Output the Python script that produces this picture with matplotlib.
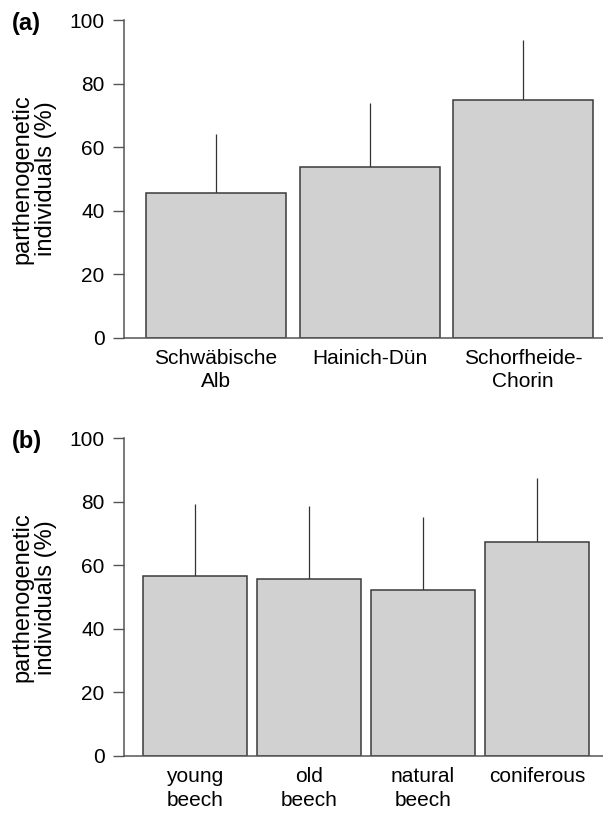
import numpy as np
import matplotlib
matplotlib.use("Agg")
import matplotlib.pyplot as plt

plt.rcParams['font.family'] = ['Liberation Sans', 'DejaVu Sans']

# DATA
regions = ['Schwäbische\nAlb', 'Hainich-Dün', 'Schorfheide-\nChorin']
region_mean = [45.7, 53.8, 74.8]
region_err = [18.6, 20.1, 19.1]

forests = ['young\nbeech', 'old\nbeech', 'natural\nbeech', 'coniferous']
forest_mean = [56.7, 55.8, 52.3, 67.5]
forest_err = [22.7, 22.9, 22.8, 19.9]

yticks = [0, 20, 40, 60, 80, 100]
ylabel = 'parthenogenetic\nindividuals (%)'

BAR_FILL = '#d0d1d0'
BAR_EDGE = '#3a3a3a'
AXIS_COL = '#555555'

fig = plt.figure(figsize=(6.03, 8.14), dpi=100)
ax_a = fig.add_axes([0.2056, 0.5851, 0.7944, 0.3900])
ax_b = fig.add_axes([0.2056, 0.0713, 0.7944, 0.3902])


def draw_panel(ax, cats, means, errs, xlim, tag):
    x = np.arange(len(cats))
    ax.bar(x, means, width=0.912, color=BAR_FILL, edgecolor=BAR_EDGE,
           linewidth=1.1, zorder=2)
    # upper-only error lines, no caps
    ax.errorbar(x, means, yerr=[np.zeros(len(errs)), errs], fmt='none',
                ecolor='#333333', elinewidth=0.9, capsize=0, zorder=1)
    ax.set_xlim(*xlim)
    ax.set_ylim(0, 100)
    ax.set_yticks(yticks)
    ax.set_xticks(x)
    ax.set_xticklabels(cats, fontsize=15, linespacing=1.3)
    ax.tick_params(axis='x', length=0, pad=8)
    ax.tick_params(axis='y', length=8, width=1, color=AXIS_COL,
                   labelsize=15, pad=6)
    for s in ['top', 'right']:
        ax.spines[s].set_visible(False)
    for s in ['left', 'bottom']:
        ax.spines[s].set_color(AXIS_COL)
        ax.spines[s].set_linewidth(1.1)
    ax.set_ylabel(ylabel, fontsize=17, linespacing=1.1)
    ax.yaxis.set_label_coords(-0.14, 0.5)
    ax.text(-0.234, 0.99, tag, transform=ax.transAxes, fontsize=17,
            fontweight='bold', ha='left', va='center')


draw_panel(ax_a, regions, region_mean, region_err, (-0.6, 2.52), '(a)')
draw_panel(ax_b, forests, forest_mean, forest_err, (-0.623, 3.58), '(b)')

fig.savefig('out.png', dpi=100)
